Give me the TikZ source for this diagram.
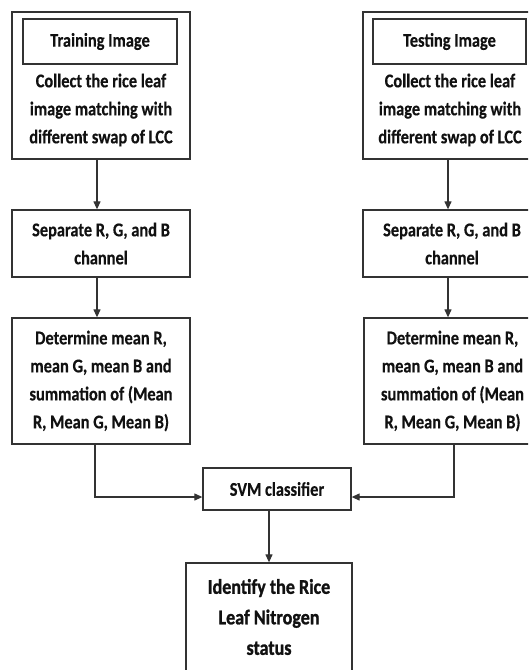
\documentclass[tikz,border=0pt]{standalone}
\usepackage{fontspec}
\setmainfont{Carlito}[FakeStretch=0.84, BoldFeatures={FakeBold=0.4}]
\newfontfamily\heavyfont{Carlito}[FakeStretch=0.86, BoldFeatures={FakeBold=1.2}]
\usetikzlibrary{arrows.meta}
\definecolor{linec}{HTML}{333333}
\definecolor{txtc}{HTML}{111111}
\begin{document}
\begin{tikzpicture}[x=1pt,y=-1pt,
  box/.style={draw=linec, line width=1.3pt, inner sep=0pt, align=center, text=txtc,
    font=\bfseries\fontsize{19.5}{28}\selectfont},
  txt/.style={inner sep=0pt, align=center, text=txtc, font=\bfseries\fontsize{19.5}{28}\selectfont},
  arr/.style={draw=linec, line width=1.2pt, -{Triangle[length=8pt,width=7pt]}}]
\useasboundingbox (0,0) rectangle (528,670);
\clip (0,0) rectangle (528,670);
% top boxes
\node[box, minimum width=178pt, minimum height=147pt] (tl) at (101,85.5) {};
\node[box, minimum width=154pt, minimum height=45pt] (tli) at (100,41.5) {Training Image};
\node[txt] (tlt) at (101,110) {Collect the rice leaf\\image matching with\\different swap of LCC};
\node[box, minimum width=178pt, minimum height=147pt] (tr) at (452,85.5) {};
\node[box, minimum width=153pt, minimum height=45pt] (tri) at (449.5,41.5) {Testing Image};
\node[txt] (trt) at (450,110) {Collect the rice leaf\\image matching with\\different swap of LCC};
% separate boxes
\node[box, minimum width=178pt, minimum height=67pt] (sl) at (101,243.5) {Separate R, G, and B\\channel};
\node[box, minimum width=178pt, minimum height=67pt] (sr) at (452,243.5) {Separate R, G, and B\\channel};
% determine boxes
\node[box, minimum width=178pt, minimum height=126pt] (dl) at (101,381) {Determine mean R,\\mean G, mean B and\\summation of (Mean\\R, Mean G, Mean B)};
\node[box, minimum width=177pt, minimum height=126pt] (dr) at (452.5,381) {Determine mean R,\\mean G, mean B and\\summation of (Mean\\R, Mean G, Mean B)};
% svm
\node[box, minimum width=148pt, minimum height=42pt] (svm) at (277,489) {SVM classifier};
% final
\node[box, minimum width=166pt, minimum height=108pt, font=\heavyfont\bfseries\fontsize{21}{30.5}\selectfont] (fin) at (269,617) {Identify the Rice\\Leaf Nitrogen\\status};
% arrows
\draw[arr] ([xshift=-4pt]tl.south) -- ([xshift=-4pt]sl.north);
\draw[arr] ([xshift=-4pt]sl.south) -- ([xshift=-4pt]dl.north);
\draw[arr] ([xshift=-4pt]tr.south) -- ([xshift=-4pt]sr.north);
\draw[arr] ([xshift=-4pt]sr.south) -- ([xshift=-4.5pt]dr.north);
\draw[arr] ([xshift=-6pt]dl.south) |- ([yshift=-8pt]svm.west);
\draw[arr] ([xshift=1.5pt]dr.south) |- ([yshift=-8pt]svm.east);
\draw[arr] ([xshift=-8pt]svm.south) -- (fin.north);
\end{tikzpicture}
\end{document}
